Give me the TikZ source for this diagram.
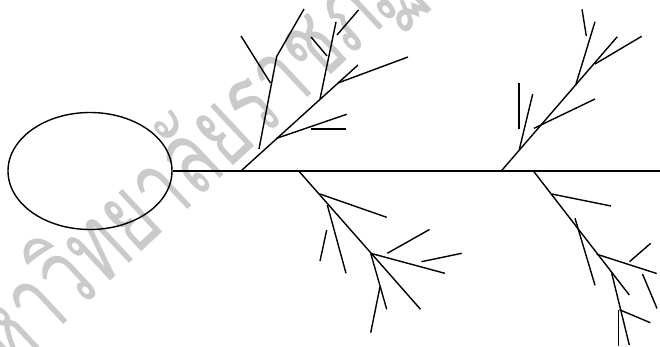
\documentclass[tikz,border=0pt]{standalone}
\usepackage{fontspec}
\newfontfamily\thaifont[Script=Thai,FakeStretch=0.68]{Loma}
\usetikzlibrary{shapes.geometric}
\definecolor{stampgray}{RGB}{202,202,202}

\begin{document}
\begin{tikzpicture}[x=1pt,y=-1pt,line width=1.4pt,
    stamp/.style={stampgray,rotate=43,anchor=west,inner sep=0pt,
      font=\thaifont\fontsize{105}{105}\selectfont}]
          \useasboundingbox (0,0) rectangle (660,347);
          % watermark
          \node[stamp] (mark) at (-47,385) {มหาวิทยาลัยราชภัฏ};
          % head and spine
          \node[draw,ellipse,minimum width=164pt,minimum height=117pt,inner sep=0pt] (head) at (90,171) {};
          \coordinate (tail) at (660,170.5);
          \draw (head.east) -- (head.east -| tail);
          % upper left bone
          \coordinate (A0) at (241.5,170.5);
          \coordinate (A1) at (276.7,138.3);
          \coordinate (A2) at (320,99);
          \coordinate (A3) at (338,83);
          \coordinate (A4) at (358,65);
          \draw (A0) -- (A4);
          \draw (A1) -- (346.7,114.3);
          \draw (311,129) -- (346,129);
          \draw (A2) -- (336,22);
          \draw (337,35) -- (358.5,10);
          \draw (311,37) -- (327,56);
          \draw (A3) -- (408,57);
          \draw (259,149) -- (276.7,56.5) -- (304,9);
          \draw (241,36) -- (270.5,83);
          % lower left bone
          \coordinate (B0) at (298.3,170.5);
          \coordinate (B1) at (319.3,193.8);
          \coordinate (B2) at (370.7,253.3);
          \coordinate (B3) at (420.5,309.3);
          \draw (B0) -- (B3);
          \draw (B1) -- (386.7,217.3);
          \draw (327.3,205) -- (346,273.3);
          \draw (326.7,230) -- (320,261);
          \draw (B2) -- (444.8,273.3);
          \draw (387.3,253.3) -- (429.5,229.5);
          \draw (421.5,261.7) -- (461.7,253.3);
          \draw (B2) -- (386.7,309.3);
          \draw (380,286.7) -- (370.7,332.7);
          % upper right bone
          \coordinate (C0) at (501.7,170.5);
          \coordinate (C1) at (519.3,149.5);
          \coordinate (C2) at (534,128.3);
          \coordinate (C3) at (576,84);
          \coordinate (C4) at (595,64);
          \coordinate (C5) at (617.3,36.7);
          \draw (C0) -- (C5);
          \draw (C4) -- (641.7,36.3);
          \draw (C3) -- (595,21.7);
          \draw (582,9.3) -- (586.3,36);
          \draw (C2) -- (595,99);
          \draw (C1) -- (532.7,94);
          \draw (519,83.3) -- (519,129.3);
          % lower right bone
          \coordinate (D0) at (533,170.5);
          \coordinate (D1) at (551.7,194);
          \coordinate (D2) at (596.7,254.2);
          \coordinate (D3) at (611.7,273.3);
          \coordinate (D4) at (629.3,295);
          \draw (D0) -- (D4);
          \draw (D1) -- (611,206);
          \draw (575,218.3) -- (595,285.3);
          \draw (D2) -- (656.7,273.5);
          \draw (629.5,261.7) -- (650.7,243.3);
          \draw (642.5,274) -- (657,308.5);
          \draw (D3) -- (629.3,345);
          \draw (619.5,309.7) -- (650.3,322.7);
          \draw (618.3,309.7) -- (618.3,346);
\end{tikzpicture}
\end{document}
